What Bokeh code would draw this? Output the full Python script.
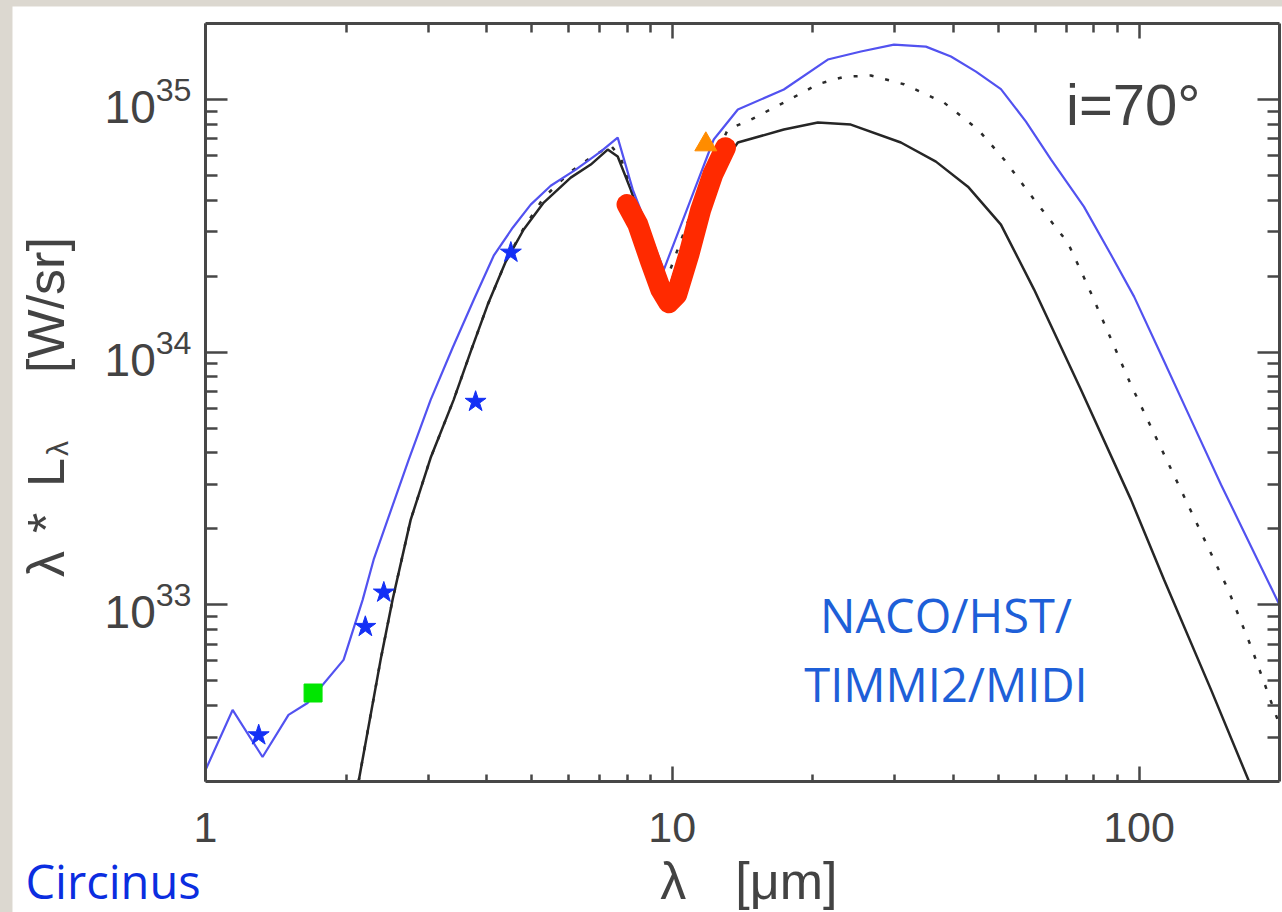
from bokeh.plotting import figure
from bokeh.models import (Range1d, FixedTicker, LogAxis, Label, CustomJSTickFormatter,
                          NumeralTickFormatter, LogTickFormatter)
from bokeh.layouts import column
from bokeh.embed import file_html
from bokeh.resources import INLINE

# --- SED of Circinus: wavelength [micron] vs lambda*L_lambda [W/sr] ---

# total model SED (blue)
wl_total = [1.0, 1.143, 1.325, 1.506, 1.654, 1.976, 2.171, 2.292, 2.455, 2.724,
            3.036, 3.384, 3.754, 4.144, 4.551, 4.974, 5.490, 6.211, 7.025, 7.640,
            8.230, 9.590, 10.85, 12.27, 13.82, 17.34, 21.54, 25.36, 29.85, 34.95,
            39.54, 44.74, 50.6, 57.25, 64.8, 76.2, 87.1, 97.6, 111.5, 129.3,
            149.9, 173.9, 200.0]
lum_total = [2.22e32, 3.84e32, 2.50e32, 3.67e32, 4.09e32, 6.06e32, 1.047e33, 1.51e33, 2.17e33, 3.75e33,
             6.48e33, 1.042e34, 1.61e34, 2.41e34, 3.11e34, 3.84e34, 4.56e34, 5.28e34, 6.22e34, 7.07e34,
             4.40e34, 2.12e34, 3.84e34, 6.95e34, 9.13e34, 1.096e35, 1.44e35, 1.55e35, 1.65e35, 1.62e35,
             1.48e35, 1.29e35, 1.10e35, 8.18e34, 5.79e34, 3.77e34, 2.43e34, 1.66e34, 9.77e33, 5.40e33,
             2.99e33, 1.70e33, 1.0e33]

# torus model (solid black)
wl_torus = [2.128, 2.372, 2.517, 2.751, 3.036, 3.401, 3.699, 4.022, 4.396, 4.805,
            5.304, 6.060, 6.69, 7.272, 7.640, 8.147, 9.781, 11.35, 13.82, 17.34,
            20.51, 24.13, 30.89, 36.72, 43.0, 50.6, 59.6, 75.1, 96.1, 113.1,
            142.7, 172.1]
lum_torus = [2.0e32, 6.06e32, 1.05e33, 2.17e33, 3.82e33, 6.48e33, 1.005e34, 1.54e34, 2.28e34, 3.06e34,
             3.91e34, 4.91e34, 5.53e34, 6.34e34, 5.95e34, 4.40e34, 1.72e34, 4.02e34, 6.76e34, 7.61e34,
             8.11e34, 7.96e34, 6.76e34, 5.68e34, 4.52e34, 3.20e34, 1.77e34, 7.10e33, 2.61e33, 1.26e33,
             4.61e32, 2.0e32]

# torus model, alternative parameters (dotted black)
wl_alt = [2.128, 2.372, 2.517, 2.751, 3.036, 3.401, 3.699, 4.022, 4.396, 4.805,
          5.304, 6.060, 6.69, 7.383, 7.754, 8.230, 9.685, 11.35, 13.15, 14.74,
          17.34, 20.51, 23.32, 26.65, 31.35, 38.2, 45.2, 51.4, 59.6, 70.4,
          77.8, 96.1, 123.0, 155.2, 173.9, 200.0]
lum_alt = [2.0e32, 6.06e32, 1.05e33, 2.17e33, 3.82e33, 6.48e33, 1.005e34, 1.54e34, 2.28e34, 3.10e34,
           4.09e34, 5.19e34, 5.89e34, 6.58e34, 5.89e34, 4.21e34, 1.90e34, 4.21e34, 7.61e34, 8.33e34,
           9.73e34, 1.15e35, 1.23e35, 1.245e35, 1.15e35, 9.73e34, 7.61e34, 5.79e34, 4.02e34, 2.71e34,
           1.82e34, 7.43e33, 2.85e33, 1.15e33, 6.82e32, 3.35e32]

# MIDI N-band spectrum (red)
wl_midi = [8.0, 8.44, 8.99, 9.45, 9.83, 10.22, 10.85, 11.51, 12.21, 13.0]
lum_midi = [3.84e34, 3.20e34, 2.28e34, 1.77e34, 1.57e34, 1.69e34, 2.43e34, 3.67e34, 5.05e34, 6.45e34]

# NACO / HST photometry (stars)
wl_naco = [1.30, 2.20, 2.41, 3.79, 4.51]
lum_naco = [3.05e32, 8.19e32, 1.12e33, 6.37e33, 2.48e34]

# HST 1.7 micron point (square)
wl_hst = [1.70]
lum_hst = [4.48e32]

# TIMMI2 point (triangle)
wl_timmi = [11.8]
lum_timmi = [6.64e34]

x_major = [1, 10, 100]
x_minor = [2, 3, 4, 5, 6, 7, 8, 9, 20, 30, 40, 50, 60, 70, 80, 90]
y_major = [1e33, 1e34, 1e35]
y_minor = [3e32, 4e32, 5e32, 6e32, 7e32, 8e32, 9e32,
           2e33, 3e33, 4e33, 5e33, 6e33, 7e33, 8e33, 9e33,
           2e34, 3e34, 4e34, 5e34, 6e34, 7e34, 8e34, 9e34]

# plotting box limits
X_LO, X_HI = 1.0, 200.0
Y_LO, Y_HI = 2.0e32, 2.0e35

FONT = "Liberation Sans"
INK = "#434343"
AXIS = "#474747"

# the frame spans the whole canvas; the axes are pinned to the box limits
p = figure(width=1270, height=906, margin=(6, 0, 0, 12),
           x_axis_type="log", y_axis_type="log",
           x_range=Range1d(0.38590, 202.96), y_range=Range1d(6.062e31, 2.335e35),
           output_backend="svg", toolbar_location=None,
           min_border=0, min_border_left=0, min_border_right=0,
           min_border_top=0, min_border_bottom=0,
           background_fill_color="white", border_fill_color="white")
p.grid.visible = False
p.outline_line_color = None

xt = FixedTicker(ticks=x_major, minor_ticks=x_minor)
yt = FixedTicker(ticks=y_major, minor_ticks=y_minor)
blank = CustomJSTickFormatter(code="return ''")


def style_axis(ax, major_in, minor_in, major_out=0, minor_out=0):
    ax.axis_line_color = AXIS
    ax.axis_line_width = 3
    ax.major_tick_line_color = AXIS
    ax.minor_tick_line_color = AXIS
    ax.major_tick_line_width = 2.5
    ax.minor_tick_line_width = 2.5
    ax.major_tick_in = major_in
    ax.major_tick_out = major_out
    ax.minor_tick_in = minor_in
    ax.minor_tick_out = minor_out


xa = p.xaxis[0]
xa.fixed_location = Y_LO
xa.bounds = (X_LO, X_HI)
xa.ticker = xt
xa.formatter = NumeralTickFormatter(format="0")
style_axis(xa, 15, 7)
xa.major_label_text_font = FONT
xa.major_label_text_font_size = "43px"
xa.major_label_text_color = INK
xa.major_label_standoff = 31

ya = p.yaxis[0]
ya.fixed_location = X_LO
ya.bounds = (Y_LO, Y_HI)
ya.ticker = yt
ya.formatter = LogTickFormatter()
style_axis(ya, 22, 12)
ya.major_label_text_font = FONT
ya.major_label_text_font_size = "46px"
ya.major_label_text_color = INK
ya.major_label_standoff = 14

# upper box edge: ticks hang down into the box
top = LogAxis(ticker=xt, formatter=blank, fixed_location=Y_HI, bounds=(X_LO, X_HI),
              major_label_text_font_size="1px", major_label_standoff=0)
style_axis(top, 0, 0, 15, 9)
p.add_layout(top, "below")

right = LogAxis(ticker=yt, formatter=blank, fixed_location=X_HI, bounds=(Y_LO, Y_HI),
                major_label_text_font_size="1px", major_label_standoff=0)
style_axis(right, 22, 12)
p.add_layout(right, "right")

# model curves
p.line(wl_alt, lum_alt, line_color="#2a2a2a", line_width=2.5, line_dash="4 12")
p.line(wl_torus, lum_torus, line_color="#262626", line_width=2.5)
p.line(wl_total, lum_total, line_color="#5252f0", line_width=2.2)

# observations
p.line(wl_midi, lum_midi, line_color="#ff2a00", line_width=21,
       line_cap="round", line_join="round")
p.scatter(wl_timmi, lum_timmi, marker="triangle", size=22, fill_color="#ff8c00", line_color="#ff8c00")
p.scatter(wl_hst, lum_hst, marker="square", size=18, fill_color="#00e600", line_color="#00e600")
p.scatter(wl_naco, lum_naco, marker="star", size=22, fill_color="#1430f5", line_color="#1430f5")

# y axis title: lambda * L_lambda  [W/sr]
ytitle = [("λ", 28, -160, "52px"), ("*", 72, -160, "52px"), ("L", 118, -160, "52px"),
          ("λ", 149, -148, "30px"), ("[W/sr]", 232, -160, "52px")]
for txt, yo, xo, fs in ytitle:
    p.add_layout(Label(x=X_LO, y=1e33, x_offset=xo, y_offset=yo, text=txt, angle=90,
                       angle_units="deg", text_align="left", text_baseline="middle",
                       text_font=FONT, text_font_size=fs, text_color=INK))

# x axis title
p.add_layout(Label(x=10, y=Y_LO, x_offset=-12, y_offset=-99, text="λ", text_align="left",
                   text_baseline="middle", text_font=FONT, text_font_size="52px", text_color=INK))
p.add_layout(Label(x=10, y=Y_LO, x_offset=63, y_offset=-99, text="[μm]", text_align="left",
                   text_baseline="middle", text_font=FONT, text_font_size="52px", text_color=INK))

# annotations
p.add_layout(Label(x=100, y=1e35, x_offset=-73, y_offset=-5, text="i=70°", text_align="left",
                   text_baseline="middle", text_font=FONT, text_font_size="58px", text_color=INK))
p.add_layout(Label(x=100, y=1e33, x_offset=-193, y_offset=-10, text="NACO/HST/", text_align="center",
                   text_baseline="middle", text_font="Open Sans", text_font_size="47px",
                   text_color="#1e5fd8"))
p.add_layout(Label(x=100, y=1e33, x_offset=-193, y_offset=-79, text="TIMMI2/MIDI", text_align="center",
                   text_baseline="middle", text_font="Open Sans", text_font_size="47px",
                   text_color="#1e5fd8"))
p.add_layout(Label(x=X_LO, y=Y_LO, x_offset=-180, y_offset=-99, text="Circinus", text_align="left",
                   text_baseline="middle", text_font="Open Sans", text_font_size="47px",
                   text_color="#0b2de0"))

page = column(p, width=1282, height=912, styles={"background-color": "#dcd8d0"})

open("out.html", "w").write(file_html(page, INLINE))
